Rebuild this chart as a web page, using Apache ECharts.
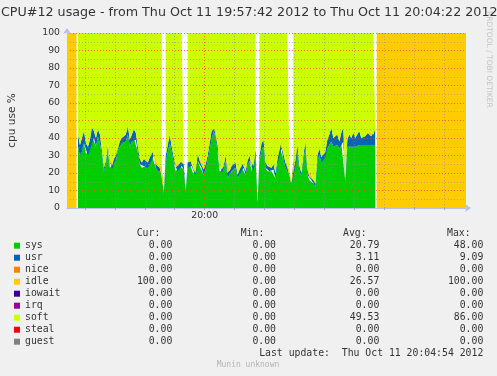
<!DOCTYPE html>
<html><head><meta charset="utf-8">
<script src="https://cdn.jsdelivr.net/npm/echarts@6/dist/echarts.min.js"></script>
<style>html,body{margin:0;padding:0;background:#f0f0f0}#c{width:497px;height:376px}</style>
</head><body><div id="c"></div>
<script>
// ---- data ----
const titleText = 'CPU#12 usage - from Thu Oct 11 19:57:42 2012 to Thu Oct 11 20:04:22 2012';
const rangeSeconds = 400;              // 19:57:42 .. 20:04:22
const firstSample = 11;                // seconds after start
const sampleStep = 2;
const idleLeadTimes = [0, 9.5];        // idle (100%) before load started
const idleTailTimes = [310.5, 400];    // idle (100%) after load ended
const unknownTimes = [10.2, 309.8];    // unknown samples at the transitions
const xGridFirst = 18, xGridStep = 30; // 19:58:00, every 30 s
const xLabelTimes = [138];
const xLabels = ['20:00'];

const sysVals = [35,30,32,37,31,30,33,41,40,35,41,37,
  30,21,25,33,23,22,25,27,33,35,37,37,38,
  42,35,38,40,39,32,25,23,24,24,23,25,30,30,23,21,20,21,
  8,
  26,32,37,32,26,21,21,24,24,22,
  9,
  23,25,24,19,18,27,24,23,19,22,27,33,39,44,40,32,21,20,22,27,17,19,21,22,23,17,19,23,23,19,24,27,21,21,30,
  3,
  27,33,35,23,21,21,21,22,17,25,35,34,28,23,21,19,
  13,
  23,24,32,21,18,27,34,19,16,16,14,12,27,30,26,28,29,34,36,38,35,36,36,34,37,38,15,35,36,35,36,35,36,36,35,36,36,36,36,36,36,36];
const usrVals = [7,6,8,7,6,5,6,5,4,5,4,5,
  3,2,2,3,2,2,3,3,4,3,3,4,4,
  5,4,4,5,4,3,3,3,4,3,3,4,4,3,2,3,3,3,
  1,
  4,4,5,3,3,2,3,3,3,3,
  1,
  3,3,3,3,2,4,3,3,3,3,3,4,5,3,6,4,3,2,2,3,3,2,3,3,3,2,3,4,3,2,3,3,2,3,3,
  0,
  3,4,4,3,3,3,2,3,3,3,4,4,3,3,2,3,
  1,
  3,3,4,3,2,3,4,3,2,3,2,2,3,4,3,3,3,5,6,8,5,5,6,4,6,8,2,4,6,5,7,5,6,8,5,6,5,7,8,5,6,9];
const softVals = [58,64,60,56,63,65,61,54,56,60,55,58,
  67,77,73,64,75,76,72,70,63,62,60,59,58,
  53,61,58,55,57,65,72,74,72,73,74,71,66,67,75,76,77,76,
  null,
  70,64,58,65,71,77,76,73,73,75,
  null,
  74,72,73,78,80,69,73,74,78,75,70,63,56,53,54,64,76,78,76,70,80,79,76,75,74,81,78,73,74,79,73,70,77,76,67,
  null,
  70,63,61,74,76,76,77,75,80,72,61,62,69,74,77,78,
  null,
  74,73,64,76,80,70,62,78,82,81,84,86,70,66,71,69,68,61,58,54,60,59,58,62,57,54,83,61,58,60,57,60,58,56,60,58,59,57,56,59,58,55];
const idleLead = [100, 100], idleTail = [100, 100];

const names  = ['sys','usr','nice','idle','iowait','irq','soft','steal','guest'];
const colors = ['#00CC00','#0066B3','#FF8000','#FFCC00','#330099','#990099','#CCFF00','#FF0000','#808080'];
const stacked = ['sys','usr','idle','soft'];   // the series with non-zero readings
const curVals = [0,0,0,100,0,0,0,0,0];
const minVals = [0,0,0,0,0,0,0,0,0];
const avgVals = [20.79,3.11,0,26.57,0,0,49.53,0,0];
const maxVals = [48,9.09,0,100,0,0,86,0,0];
const headers = ['Cur:','Min:','Avg:','Max:'];
const lastUpdate = 'Last update:  Thu Oct 11 20:04:54 2012';

// ---- build (items are [value, seconds]; encode maps x to seconds) ----
const sampleTimes = sysVals.map((_, i) => firstSample + i * sampleStep);
function build(lead, mid, tail) {
  const out = [];
  idleLeadTimes.forEach((t, i) => out.push([lead[i], t]));
  out.push([null, unknownTimes[0]]);
  sampleTimes.forEach((t, i) => out.push([mid[i], t]));
  out.push([null, unknownTimes[1]]);
  idleTailTimes.forEach((t, i) => out.push([tail[i], t]));
  return out;
}
const zeros = sysVals.map(() => 0);
const seriesData = {
  sys: build([0,0], sysVals, [0,0]),
  usr: build([0,0], usrVals, [0,0]),
  nice: build([0,0], zeros, [0,0]),
  idle: build(idleLead, zeros, idleTail),
  iowait: build([0,0], zeros, [0,0]),
  irq: build([0,0], zeros, [0,0]),
  soft: build([null,null], softVals, [null,null]),
  steal: build([0,0], zeros, [0,0]),
  guest: build([0,0], zeros, [0,0])
};
const xGridTimes = [];
for (let t = xGridFirst; t < rangeSeconds; t += xGridStep) xGridTimes.push(t);
const xGridColors = xGridTimes.map(t => xLabelTimes.includes(t) ? 'rgba(255,60,60,0.75)' : 'rgba(140,140,140,0.6)');

const mono = 'DejaVu Sans Mono';
const fs = 9.8;
const tok = (w, al) => ({width: w, align: al, fontFamily: mono, fontSize: fs, lineHeight: 12, color: '#333'});
const rich = {n: tok(97.3, 'left'), c: tok(50, 'right'), m: tok(103.7, 'right'), a: tok(103.3, 'right'), x: tok(104, 'right')};
const f2 = v => v.toFixed(2);

const chart = echarts.init(document.getElementById('c'), null, {renderer: 'canvas'});
const headerX = [136.7, 240.7, 343, 447];
chart.setOption({
  backgroundColor: '#f0f0f0',
  animation: false,
  title: {
    text: titleText, left: 1, top: 6, padding: 0,
    textStyle: {fontFamily: 'DejaVu Sans', fontSize: 12.7, fontWeight: 'normal', color: '#333'}
  },
  grid: {left: 67, right: 31, top: 33, bottom: 168, show: true, backgroundColor: '#ffffff', borderWidth: 0,
    containLabel: false, outerBoundsMode: 'none'},
  xAxis: {
    type: 'value', min: 0, max: rangeSeconds, z: 5,
    axisLine: {show: true, lineStyle: {color: '#b4c0ea', width: 1}, symbol: ['none', 'arrow'], symbolSize: [6, 6], symbolOffset: [0, 5]},
    axisTick: {show: true, customValues: xGridTimes, length: 2, lineStyle: {color: '#aaa'}},
    axisLabel: {customValues: xLabelTimes, formatter: v => xLabels[xLabelTimes.indexOf(v)] || '', color: '#333',
      fontFamily: 'DejaVu Sans', fontSize: 9.3, margin: 3},
    splitLine: {show: true, lineStyle: {color: xGridColors, type: [1, 2], width: 1}}
  },
  yAxis: {
    type: 'value', min: 0, max: 100, interval: 10, z: 5,
    name: 'cpu use %', nameLocation: 'middle', nameGap: 49, nameRotate: 90,
    nameTextStyle: {fontFamily: 'DejaVu Sans', fontSize: 10.5, color: '#333'},
    axisLine: {show: true, lineStyle: {color: '#b4c0ea', width: 1}, symbol: ['none', 'arrow'], symbolSize: [6, 6], symbolOffset: [0, 5]},
    axisTick: {show: false},
    axisLabel: {color: '#333', fontFamily: 'DejaVu Sans', fontSize: 9.3, margin: 7},
    splitLine: {show: true, lineStyle: {color: 'rgba(255,60,60,0.7)', type: [1, 2], width: 1}},
    minorTick: {show: false, splitNumber: 2},
    minorSplitLine: {show: true, lineStyle: {color: 'rgba(140,140,140,0.55)', type: [1, 2], width: 1}}
  },
  legend: {
    orient: 'vertical', left: 14, top: 239.7, padding: 0, itemGap: 0,
    itemWidth: 6, itemHeight: 6, icon: 'rect', selectedMode: false,
    itemStyle: {borderWidth: 0},
    data: names,
    formatter: name => {
      const i = names.indexOf(name);
      return '{n|' + name + '}{c|' + f2(curVals[i]) + '}{m|' + f2(minVals[i]) + '}{a|' + f2(avgVals[i]) + '}{x|' + f2(maxVals[i]) + '}';
    },
    textStyle: {fontFamily: mono, fontSize: fs, color: '#333', lineHeight: 12, rich: rich}
  },
  graphic: [
    ...headers.map((h, i) => ({type: 'text', x: headerX[i], y: 233.3,
      style: {text: h, font: fs + 'px "' + mono + '"', fill: '#333', align: 'left', verticalAlign: 'middle', textAlign: 'left', textVerticalAlign: 'middle'}})),
    {type: 'text', x: 483.3, y: 353.3,
      style: {text: lastUpdate, font: fs + 'px "' + mono + '"', fill: '#333', align: 'right', verticalAlign: 'middle', textAlign: 'right', textVerticalAlign: 'middle'}},
    {type: 'text', x: 248, y: 365,
      style: {text: 'Munin unknown', font: '8px "' + mono + '"', fill: '#b4b4b4', align: 'center', verticalAlign: 'middle', textAlign: 'center', textVerticalAlign: 'middle'}},
    {type: 'text', x: 489, y: 11, rotation: -Math.PI / 2,
      style: {text: 'RRDTOOL / TOBI OETIKER', font: '7.5px "DejaVu Sans"', fill: '#c4c4c4', align: 'left', verticalAlign: 'middle', textAlign: 'left', textVerticalAlign: 'middle'}}
  ],
  series: names.map((n, i) => ({
    name: n, type: 'line', stack: stacked.includes(n) ? 'cpu' : undefined, data: seriesData[n],
    dimensions: ['v', 't'], encode: {x: 't', y: 'v'},
    color: colors[i], showSymbol: false, symbol: 'none', connectNulls: false,
    lineStyle: {width: 0}, areaStyle: stacked.includes(n) ? {color: colors[i], opacity: 1} : {opacity: 0},
    itemStyle: {color: colors[i], borderWidth: 0}, z: 2, silent: true
  }))
});
</script></body></html>
